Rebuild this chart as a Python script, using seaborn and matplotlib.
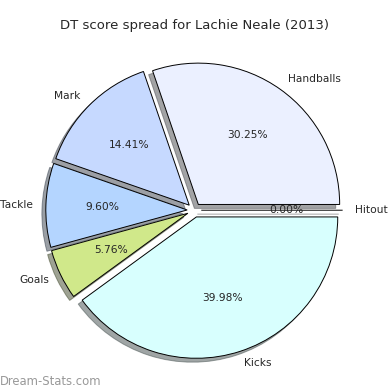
import matplotlib
matplotlib.use("Agg")
import matplotlib.pyplot as plt
import seaborn as sns

sns.set_style("white")
plt.rcParams['font.family'] = ['DejaVu Sans']

labels = ["Handballs", "Mark", "Tackle", "Goals", "Kicks", "Hitout"]
values = [30.25, 14.41, 9.60, 5.76, 39.98, 0.0]
colors = ["#ebf0ff", "#c6d9ff", "#b4d5ff", "#d0e88a", "#d8fffe", "#ffffff"]
explode = [0.05] * len(values)

fig = plt.figure(figsize=(3.9, 3.9), dpi=100)
ax = fig.add_axes([0.045, 0.008, 0.906, 0.906])
wedges, texts, autotexts = ax.pie(
    values, labels=labels, colors=colors, explode=explode,
    autopct="%1.2f%%", shadow=True, startangle=0, counterclock=True,
    labeldistance=1.09,
    wedgeprops=dict(edgecolor="black", linewidth=0.7),
    textprops=dict(fontsize=7.7),
)
ax.set_aspect("equal")
fig.suptitle("DT score spread for Lachie Neale (2013)", fontsize=9.5, y=0.952)
fig.text(0.0, 0.013, "Dream-Stats.com", fontsize=8.4, color="#999999")
fig.savefig("out.png", dpi=100)
